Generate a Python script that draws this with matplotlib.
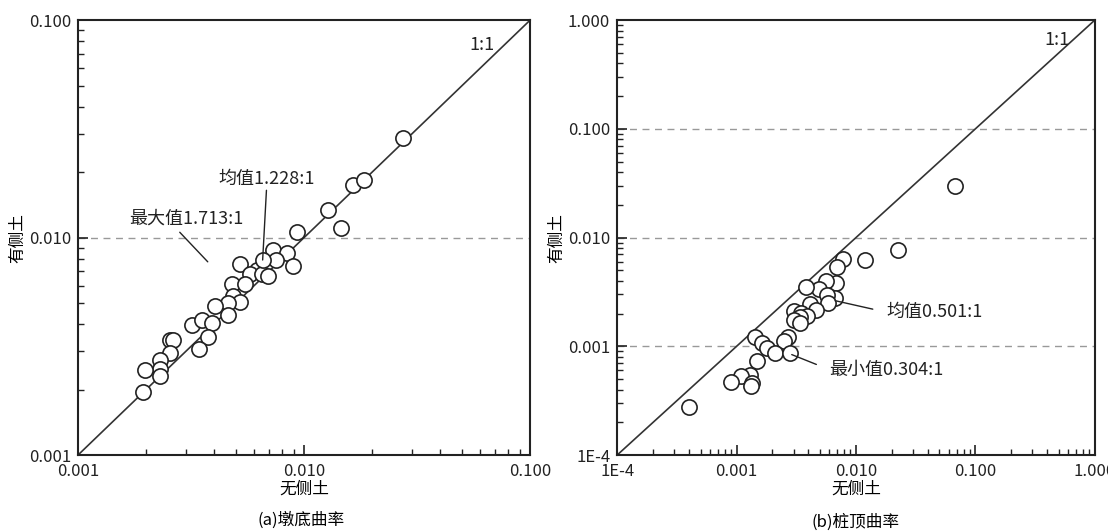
import matplotlib
matplotlib.use("Agg")
import matplotlib.pyplot as plt
from matplotlib.ticker import FixedLocator, LogLocator, NullFormatter

plt.rcParams['font.family'] = ['Noto Sans CJK SC', 'DejaVu Sans']

a_x = [0.0274,0.01652,0.0184,0.0128,0.0145,0.0093,0.0073,0.00838,0.00752,0.00898,0.00521,0.00618,
       0.00577,0.0065,0.00695,0.0066,0.00479,0.0055,0.00487,0.00521,0.00463,0.00404,0.00463,0.00318,
       0.00352,0.0039,0.00377,0.00255,0.00264,0.00255,0.00344,0.00231,0.00231,0.00231,0.00198,0.00193]
a_y = [0.0286,0.0174,0.0184,0.0134,0.0111,0.0106,0.00877,0.00853,0.00789,0.00743,0.00753,0.0071,
       0.0068,0.0068,0.00665,0.00789,0.00611,0.00611,0.00538,0.00507,0.00498,0.00484,0.0044,0.00396,
       0.00418,0.00403,0.0035,0.00338,0.00338,0.00295,0.00306,0.00273,0.0025,0.00231,0.00245,0.00194]
b_x = [0.068,0.0223,0.0119,0.00782,0.00695,0.0068,0.00565,0.00493,0.00382,0.00672,0.00577,0.00585,
       0.00415,0.0046,0.00305,0.00349,0.00388,0.00338,0.00305,0.00338,0.00271,0.00248,0.00143,0.00164,
       0.0018,0.00209,0.00281,0.00148,0.00129,0.0011,0.0009,0.00136,0.00132,0.0004]
b_y = [0.030,0.00776,0.00627,0.0064,0.00538,0.00382,0.00401,0.0034,0.00349,0.00277,0.00297,0.00253,
       0.00245,0.00216,0.0021,0.00201,0.00192,0.00188,0.00176,0.00164,0.00123,0.00111,0.00121,0.00107,
       0.00097,0.00086,0.00087,0.00073,0.000546,0.000538,0.00047,0.000463,0.000433,0.000277]

a_ticks = [0.001, 0.01, 0.1]
a_labels = ['0.001', '0.010', '0.100']
b_ticks = [1e-4, 0.001, 0.01, 0.1, 1.0]
b_labels = ['1E-4', '0.001', '0.010', '0.100', '1.000']

fig = plt.figure(figsize=(11.08, 5.31), dpi=100)
axa = fig.add_axes([0.0704, 0.143, 0.408, 0.819])
axb = fig.add_axes([0.557, 0.143, 0.431, 0.819])

def style(ax, ticks, labels, dashed):
    ax.set_xscale('log'); ax.set_yscale('log')
    lo, hi = ticks[0], ticks[-1]
    ax.set_xlim(lo, hi); ax.set_ylim(lo, hi)
    ax.plot([lo, hi], [lo, hi], color='#333333', lw=1.2, zorder=2)
    for d in dashed:
        ax.axhline(d, color='#999999', lw=1, ls=(0, (5, 4)), zorder=1)
    ax.xaxis.set_major_locator(FixedLocator(ticks)); ax.yaxis.set_major_locator(FixedLocator(ticks))
    ax.set_xticklabels(labels); ax.set_yticklabels(labels)
    for axis in (ax.xaxis, ax.yaxis):
        axis.set_minor_locator(LogLocator(base=10, subs=range(2, 10)))
        axis.set_minor_formatter(NullFormatter())
    ax.tick_params(which='major', direction='in', length=7, width=1.2, labelsize=12, colors='#222222')
    ax.tick_params(axis='x', which='major', pad=6)
    ax.tick_params(axis='y', which='major', pad=5)
    ax.tick_params(which='minor', direction='in', length=4, width=1, colors='#222222')
    for s in ax.spines.values():
        s.set_linewidth(1.5); s.set_color('#222222')
    ax.set_xlabel('无侧土', fontsize=12, labelpad=0)
    ax.set_ylabel('有侧土', fontsize=12, labelpad=2)

style(axa, a_ticks, a_labels, [0.01])
style(axb, b_ticks, b_labels, [0.001, 0.01, 0.1])

mk = dict(s=120, facecolors='white', edgecolors='#222222', linewidths=1.2, zorder=3)
axa.scatter(a_x, a_y, **mk)
axb.scatter(b_x, b_y, **mk)

kw = dict(fontsize=13, color='#222222')
axa.text(0.054, 0.077, '1:1', **kw, ha='left', va='center')
axb.text(0.38, 0.66, '1:1', **kw, ha='left', va='center')

axa.annotate('均值1.228:1', xy=(0.00656, 0.00789), xytext=(0.00418, 0.0187),
             arrowprops=dict(arrowstyle='-', color='#222222', lw=1, shrinkA=0, shrinkB=0,
                             relpos=(0.5, 0)), ha='left', va='center', **kw)
axa.annotate('最大值1.713:1', xy=(0.00375, 0.00774), xytext=(0.00169, 0.01225),
             arrowprops=dict(arrowstyle='-', color='#222222', lw=1, shrinkA=2, shrinkB=0,
                             relpos=(0.4, 0)), ha='left', va='center', **kw)
axb.annotate('均值0.501:1', xy=(0.0067, 0.00263), xytext=(0.018, 0.00206),
             arrowprops=dict(arrowstyle='-', color='#222222', lw=1, shrinkA=8, shrinkB=0,
                             relpos=(0, 0.5)), ha='left', va='center', **kw)
axb.annotate('最小值0.304:1', xy=(0.0029, 0.00084), xytext=(0.006, 0.00061),
             arrowprops=dict(arrowstyle='-', color='#222222', lw=1, shrinkA=8, shrinkB=0,
                             relpos=(0, 0.5)), ha='left', va='center', **kw)

fig.text(0.272, 0.005, '(a)墩底曲率', fontsize=12, ha='center', va='bottom')
fig.text(0.557 + 0.431/2, 0.0, '(b)桩顶曲率', fontsize=12, ha='center', va='bottom')

fig.savefig('out.png', dpi=100)
